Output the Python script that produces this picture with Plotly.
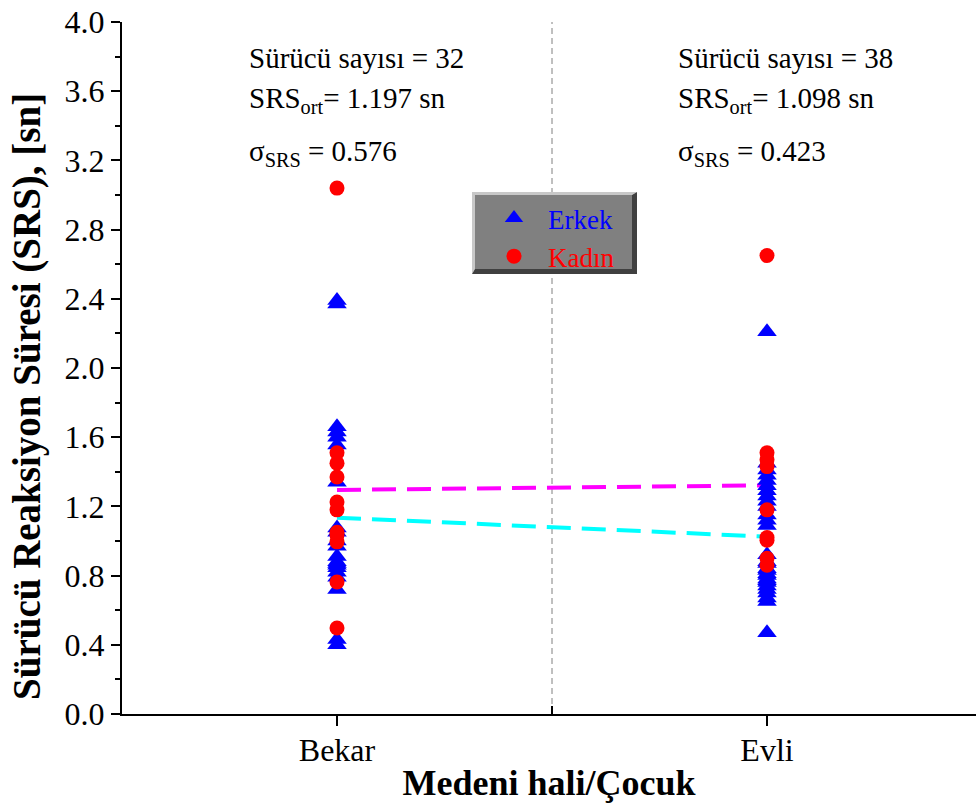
import plotly.graph_objects as go

# Groups on the horizontal axis
gruplar = ["Bekar", "Evli"]
grup_x = [1, 2]

# Reaction times [sn] per group and gender
erkek_bekar = [2.39, 2.37, 1.66, 1.63, 1.60, 1.555, 1.34, 1.075, 1.05, 1.00, 0.97,
               0.91, 0.88, 0.87, 0.86, 0.845, 0.82, 0.79, 0.72, 0.43, 0.40]
kadin_bekar = [3.04, 1.51, 1.45, 1.37, 1.225, 1.18, 1.05, 1.035, 0.995, 0.763, 0.497]

erkek_evli = [2.21, 1.45, 1.41, 1.38, 1.35, 1.32, 1.29, 1.26, 1.23, 1.20, 1.15,
              1.12, 1.09, 0.92, 0.87, 0.83, 0.80, 0.77, 0.88, 0.84, 0.81, 0.78,
              0.76, 0.74, 0.72, 0.70, 0.67, 0.65, 0.47]
kadin_evli = [2.65, 1.51, 1.47, 1.43, 1.18, 1.02, 1.005, 0.90, 0.86]

# Group means per gender (dashed trend lines)
erkek_ort = [1.135, 1.025]
kadin_ort = [1.295, 1.322]

# Summary statistics written above each group
surucu_sayisi = [32, 38]
srs_ort = [1.197, 1.098]
srs_std = [0.576, 0.423]

FONT = '"Liberation Serif", "Times New Roman", Times, serif'
W, H = 976, 804
ML, MR, MT, MB = 122, 0, 22, 90
PW, PH = W - ML - MR, H - MT - MB


def px_x(p):
    return (p - ML) / PW


def px_y(p):
    return (H - MB - p) / PH


fig = go.Figure()

fig.add_trace(go.Scatter(
    x=grup_x, y=erkek_ort, mode="lines", showlegend=False, hoverinfo="skip",
    line=dict(color="#00ffff", width=4, dash="24px,11px")))
fig.add_trace(go.Scatter(
    x=grup_x, y=kadin_ort, mode="lines", showlegend=False, hoverinfo="skip",
    line=dict(color="#ff00ff", width=4, dash="24px,11px")))

fig.add_trace(go.Scatter(
    x=[grup_x[0]] * len(erkek_bekar) + [grup_x[1]] * len(erkek_evli),
    y=erkek_bekar + erkek_evli, mode="markers",
    name='<span style="color:#0000ff">Erkek</span>',
    marker=dict(symbol="triangle-up", size=17, color="#0000ff", line=dict(width=0))))
fig.add_trace(go.Scatter(
    x=[grup_x[0]] * len(kadin_bekar) + [grup_x[1]] * len(kadin_evli),
    y=kadin_bekar + kadin_evli, mode="markers",
    name='<span style="color:#ff0000">Kadın</span>',
    marker=dict(symbol="circle", size=15, color="#ff0000", line=dict(width=0))))

shapes = [
    # separator between the two groups
    dict(type="line", xref="x", yref="paper", x0=1.5, x1=1.5, y0=0, y1=1,
         line=dict(color="#808080", width=1, dash="6px,4px"), layer="below"),
]

# bevelled legend box
bx0, bx1, by0, by1, bev = 472, 637, 192, 274, 5
shapes.append(dict(type="path", xref="paper", yref="paper", layer="above",
                   path=f"M {px_x(bx0)},{px_y(by0)} L {px_x(bx1)},{px_y(by0)} "
                        f"L {px_x(bx1-bev)},{px_y(by0+3)} L {px_x(bx0+3)},{px_y(by0+3)} "
                        f"L {px_x(bx0+3)},{px_y(by1-bev)} L {px_x(bx0)},{px_y(by1)} Z",
                   fillcolor="#c8c8c8", line=dict(width=0)))
shapes.append(dict(type="path", xref="paper", yref="paper", layer="above",
                   path=f"M {px_x(bx1)},{px_y(by0)} L {px_x(bx1)},{px_y(by1)} "
                        f"L {px_x(bx0)},{px_y(by1)} L {px_x(bx0+3)},{px_y(by1-bev)} "
                        f"L {px_x(bx1-bev)},{px_y(by1-bev)} L {px_x(bx1-bev)},{px_y(by0+3)} Z",
                   fillcolor="#404040", line=dict(width=0)))
shapes.append(dict(type="rect", xref="paper", yref="paper", layer="above",
                   x0=px_x(bx0 + 3), x1=px_x(bx1 - bev), y0=px_y(by1 - bev), y1=px_y(by0 + 3),
                   fillcolor="#808080", line=dict(width=0)))

annotations = []
ann_x = [0.79, 1.788]
for i in range(len(gruplar)):
    annotations.append(dict(x=ann_x[i], y=3.79, xref="x", yref="y", xanchor="left",
                            yanchor="middle", showarrow=False,
                            text=f"Sürücü sayısı = {surucu_sayisi[i]}"))
    annotations.append(dict(x=ann_x[i], y=3.55, xref="x", yref="y", xanchor="left",
                            yanchor="middle", showarrow=False,
                            text=f"SRS<sub>ort</sub>= {srs_ort[i]:.3f} sn"))
    annotations.append(dict(x=ann_x[i], y=3.245, xref="x", yref="y", xanchor="left",
                            yanchor="middle", showarrow=False,
                            text=f"σ<sub>SRS</sub> = {srs_std[i]:.3f}"))

# vertical axis title
annotations.append(dict(x=px_x(27), y=px_y(397), xref="paper", yref="paper",
                        xanchor="center", yanchor="middle", textangle=-90, showarrow=False,
                        text="<b>Sürücü Reaksiyon Süresi (SRS), [sn]</b>",
                        font=dict(family=FONT, size=39, color="black")))

fig.update_layout(
    width=W, height=H,
    margin=dict(l=ML, r=MR, t=MT, b=MB, autoexpand=False),
    paper_bgcolor="white", plot_bgcolor="white",
    font=dict(family=FONT, color="black", size=29),
    shapes=shapes, annotations=annotations,
    legend=dict(x=px_x(480), y=px_y(194), xanchor="left", yanchor="top",
                bgcolor="rgba(0,0,0,0)", borderwidth=0, itemwidth=58,
                font=dict(family=FONT, size=27)),
    xaxis=dict(range=[0.5, 0.5 + PW / 430], tickmode="array", tickvals=grup_x,
               ticktext=gruplar, ticks="outside", ticklen=10, tickwidth=2,
               tickcolor="black", showline=True, linewidth=2, linecolor="black",
               showgrid=False, zeroline=False, ticklabelstandoff=-3,
               tickfont=dict(family=FONT, size=32, color="black"),
               minor=dict(tickmode="array", tickvals=[1.5], ticks="inside",
                          ticklen=8, tickwidth=2, tickcolor="black", showgrid=False),
               title=dict(text="<b>Medeni hali/Çocuk</b>", standoff=2,
                          font=dict(family=FONT, size=36, color="black"))),
    yaxis=dict(range=[0, 4], tick0=0, dtick=0.4, tickformat=".1f",
               ticks="outside", ticklen=9, tickwidth=2, tickcolor="black",
               showline=True, linewidth=2, linecolor="black",
               showgrid=False, zeroline=False,
               tickfont=dict(family=FONT, size=32, color="black"),
               minor=dict(dtick=0.2, ticks="outside", ticklen=5, tickwidth=2,
                          tickcolor="black", showgrid=False)),
)

fig.write_html("out.html")
